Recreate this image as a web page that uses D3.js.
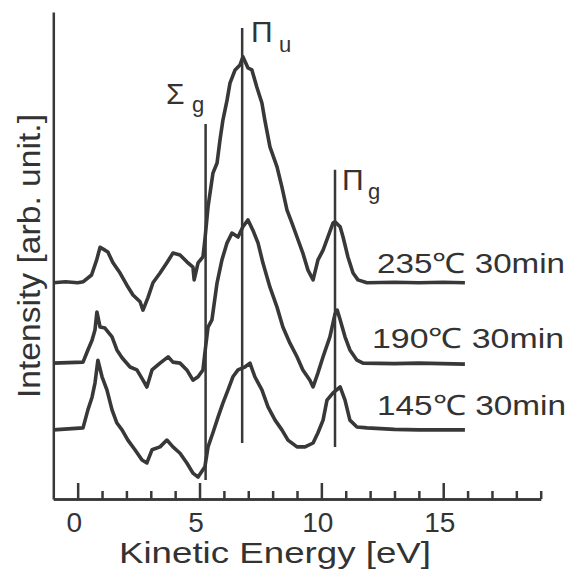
<!DOCTYPE html>
<html><head><meta charset="utf-8">
<script src="https://cdn.jsdelivr.net/npm/d3@7/dist/d3.min.js"></script>
<style>
body{margin:0;background:#fff}
text{font-family:"Liberation Sans",Arial,Helvetica,sans-serif;fill:#333}
</style>
</head><body>
<svg id="chart" width="572" height="571"></svg>
<script>
// ---- data (x: kinetic energy in eV, y: intensity in arb. units 0..100) ----
const seriesLabels = ["235℃ 30min", "190℃ 30min", "145℃ 30min"];
const spec235 = [[-1.0,44.4],[-0.5,44.6],[0.0,44.4],[0.22,44.6],[0.57,46.0],[0.78,49.1],[0.92,51.7],[1.12,51.1],[1.24,50.7],[1.45,48.5],[1.74,46.4],[2.02,43.9],[2.27,41.9],[2.56,40.5],[2.68,38.8],[2.88,41.3],[3.09,44.4],[3.38,46.4],[3.66,48.5],[3.91,50.5],[4.20,50.1],[4.48,48.7],[4.73,47.6],[4.78,45.0],[4.94,48.5],[5.14,49.7],[5.22,53.2],[5.35,60.0],[5.55,66.9],[5.72,69.0],[5.84,73.7],[5.96,77.8],[6.13,81.9],[6.25,85.4],[6.46,88.1],[6.66,89.1],[6.78,90.8],[6.99,88.5],[7.15,88.1],[7.35,84.6],[7.56,81.3],[7.68,77.8],[7.89,72.3],[8.18,68.2],[8.38,64.1],[8.59,59.3],[8.79,56.7],[9.00,53.8],[9.24,50.5],[9.45,47.0],[9.66,45.0],[9.86,49.1],[10.07,51.1],[10.27,53.8],[10.48,56.7],[10.56,56.9],[10.77,55.9],[10.89,53.8],[11.09,49.7],[11.30,46.4],[11.50,45.0],[11.87,44.4],[13.0,44.5],[14.0,44.4],[15.0,44.5],[15.89,44.4]];
const spec190 = [[-1.0,27.9],[0.22,28.1],[0.42,30.6],[0.59,32.6],[0.71,34.7],[0.79,38.4],[0.92,35.3],[1.12,35.1],[1.41,33.3],[1.61,30.6],[1.82,29.0],[2.15,27.1],[2.43,26.5],[2.68,24.4],[2.84,23.0],[3.05,26.5],[3.38,27.9],[3.71,29.2],[3.91,28.1],[4.20,27.9],[4.48,26.5],[4.73,24.4],[4.94,25.1],[5.14,26.5],[5.22,30.0],[5.35,35.3],[5.51,36.8],[5.72,44.4],[5.92,49.1],[6.13,52.6],[6.33,54.6],[6.58,53.8],[6.78,55.9],[6.99,57.3],[7.19,55.2],[7.40,52.6],[7.60,48.5],[7.89,43.5],[8.18,39.4],[8.42,35.3],[8.71,32.0],[9.00,29.2],[9.24,26.5],[9.53,24.4],[9.66,23.0],[9.86,25.9],[10.07,29.2],[10.35,33.3],[10.56,38.0],[10.65,38.8],[10.77,36.8],[10.97,33.3],[11.17,30.6],[11.46,28.5],[11.71,27.9],[13.0,27.8],[14.0,27.9],[15.89,27.7]];
const spec145 = [[-1.0,14.2],[0.22,14.6],[0.42,18.3],[0.59,20.9],[0.71,23.8],[0.83,28.5],[1.00,25.1],[1.20,22.4],[1.41,18.3],[1.61,15.6],[1.82,14.2],[2.06,12.1],[2.35,10.1],[2.64,8.0],[2.84,7.4],[3.05,10.1],[3.38,10.7],[3.66,12.1],[3.91,10.7],[4.20,9.4],[4.48,7.4],[4.73,5.3],[4.94,4.5],[5.14,6.0],[5.22,6.6],[5.35,10.7],[5.55,13.6],[5.76,16.8],[5.96,19.7],[6.17,22.4],[6.37,25.1],[6.58,26.5],[6.86,27.1],[7.07,27.9],[7.27,25.1],[7.56,22.4],[7.81,18.9],[8.10,16.2],[8.38,14.2],[8.63,12.1],[9.00,10.7],[9.33,10.7],[9.66,11.5],[9.86,13.6],[10.07,16.2],[10.23,20.3],[10.48,21.8],[10.77,23.0],[10.97,20.3],[11.17,16.2],[11.46,14.8],[11.87,14.6],[13.0,14.3],[14.0,14.2],[15.89,14.2]];
const peakSymbols = ["Σ", "Π", "Π"];
const peakSubscripts = ["g", "u", "g"];
const peakEnergy = [5.25, 6.75, 10.56];
const peakTop = [77.0, 96.7, 67.6];
const peakBottom = [3.9, 11.5, 10.7];
const majorTicks = [0, 5, 10, 15];
const minorTicks = [1, 2, 3, 4, 6, 7, 8, 9, 11, 12, 13, 14, 16, 17, 18, 19];
const xTitle = "Kinetic Energy [eV]";
const yTitle = "Intensity [arb. unit.]";

// ---- layout ----
const svg = d3.select("#chart");
const ink = "#383838";
const x = d3.scaleLinear().domain([-1, 19]).range([53.3, 540.7]);
const y = d3.scaleLinear().domain([0, 100]).range([499, 12]);

// axes
const gx = svg.append("g").attr("transform", `translate(0,${y(0)})`);
gx.call(d3.axisBottom(x).tickValues(minorTicks).tickSize(-8).tickSizeOuter(0).tickFormat(""));
const gx2 = svg.append("g").attr("transform", `translate(0,${y(0)})`);
gx2.call(d3.axisBottom(x).tickValues(majorTicks).tickSize(-16).tickSizeOuter(0).tickPadding(13));
[gx, gx2].forEach(g => {
  g.selectAll("path,line").attr("stroke", ink).attr("stroke-width", 2.5);
});
gx2.selectAll("text").attr("font-size", 28).attr("fill", "#333").attr("dx", -4)
   .style("font-family", '"Liberation Sans",Arial,sans-serif');
const gy = svg.append("g").attr("transform", `translate(${x(-1)},0)`);
gy.call(d3.axisLeft(y).tickValues([]).tickSizeOuter(0));
gy.selectAll("path").attr("stroke", ink).attr("stroke-width", 2.5);

// titles
svg.append("text").attr("x", 275).attr("y", 563).attr("text-anchor", "middle")
  .attr("font-size", 30).attr("textLength", 312).attr("lengthAdjust", "spacingAndGlyphs").text(xTitle);
svg.append("text").attr("transform", "translate(40,256) rotate(-90)").attr("text-anchor", "middle")
  .attr("font-size", 31).attr("textLength", 284).attr("lengthAdjust", "spacingAndGlyphs").text(yTitle);

// spectra
const line = d3.line().x(d => x(d[0])).y(d => y(d[1]));
[spec235, spec190, spec145].forEach(s => {
  svg.append("path").datum(s).attr("d", line).attr("fill", "none")
    .attr("stroke", ink).attr("stroke-width", 3.6).attr("stroke-linejoin", "round");
});

// peak marker lines and labels
peakEnergy.forEach((e, i) => {
  svg.append("line").attr("x1", x(e)).attr("x2", x(e)).attr("y1", y(peakTop[i])).attr("y2", y(peakBottom[i]))
    .attr("stroke", ink).attr("stroke-width", 2.5);
});
const symPos = [[166, 104], [251, 42], [342, 190]];
const subPos = [[192, 112], [279, 52], [368, 199]];
peakSymbols.forEach((s, i) => {
  svg.append("text").attr("x", symPos[i][0]).attr("y", symPos[i][1]).attr("font-size", 30).text(s);
  svg.append("text").attr("x", subPos[i][0]).attr("y", subPos[i][1]).attr("font-size", 22).text(peakSubscripts[i]);
});

// series labels
const labPos = [[377, 273], [372, 348], [377, 415]];
const labLen = [188, 192, 189];
seriesLabels.forEach((t, i) => {
  svg.append("text").attr("x", labPos[i][0]).attr("y", labPos[i][1]).attr("font-size", 28)
    .attr("textLength", labLen[i]).attr("lengthAdjust", "spacingAndGlyphs").text(t);
});
</script>
</body></html>
